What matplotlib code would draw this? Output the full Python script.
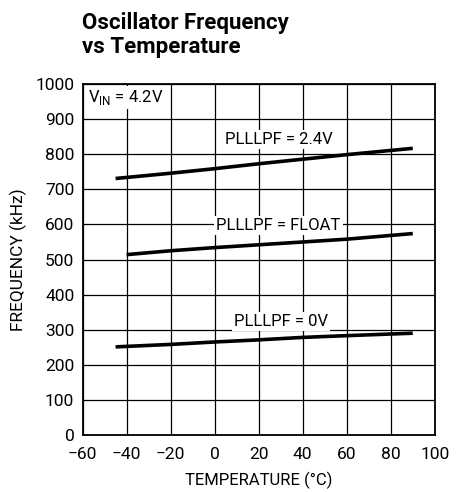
import matplotlib
matplotlib.use("Agg")
import matplotlib.pyplot as plt

plt.rcParams['font.family'] = ['Roboto', 'DejaVu Sans']

temp_24 = [-45, -20, 0, 20, 40, 60, 90]
freq_24 = [731, 746, 759, 773, 786, 799, 817]

temp_float = [-40, -20, 0, 20, 40, 60, 90]
freq_float = [514, 525, 534, 542, 550, 558, 574]

temp_0v = [-45, -20, 0, 20, 40, 60, 90]
freq_0v = [251, 258, 265, 271, 278, 283, 290]

labels = ['PLLLPF = 2.4V', 'PLLLPF = FLOAT', 'PLLLPF = 0V']
label_pos = [(29, 842), (29, 598), (30, 323)]

fig = plt.figure(figsize=(4.64, 4.92), dpi=100)
ax = fig.add_axes([0.178, 0.116, 0.759, 0.713])

for t, f in [(temp_24, freq_24), (temp_float, freq_float), (temp_0v, freq_0v)]:
    ax.plot(t, f, color='black', lw=2.6, solid_capstyle='butt', zorder=3)

for txt, (x, y) in zip(labels, label_pos):
    ax.text(x, y, txt, ha='center', va='center', fontsize=12,
            bbox=dict(facecolor='white', edgecolor='none', pad=1.5), zorder=4)

ax.text(-57.5, 962, r'V$_{\mathregular{IN}}$ = 4.2V', ha='left', va='center', fontsize=12,
        bbox=dict(facecolor='white', edgecolor='none', pad=1.5), zorder=4)

ax.set_xlim(-60, 100)
ax.set_ylim(0, 1000)
ax.set_xticks(range(-60, 101, 20))
ax.set_yticks(range(0, 1001, 100))
ax.set_xticklabels(['\u221260', '\u221240', '\u221220', '0', '20', '40', '60', '80', '100'])
ax.tick_params(length=0, labelsize=12.5)
ax.tick_params(axis='x', pad=9)
ax.tick_params(axis='y', pad=6)
ax.grid(True, color='black', lw=0.9)
for s in ax.spines.values():
    s.set_linewidth(1.3)

ax.set_xlabel('TEMPERATURE (\u00b0C)', fontsize=12, labelpad=7)
ax.set_ylabel('FREQUENCY (kHz)', fontsize=12.5, labelpad=6)

fig.text(0.177, 0.929, 'Oscillator Frequency\nvs Temperature', fontsize=16,
         fontweight='bold', ha='left', va='center', linespacing=1.15)

fig.savefig('out.png', dpi=100)
